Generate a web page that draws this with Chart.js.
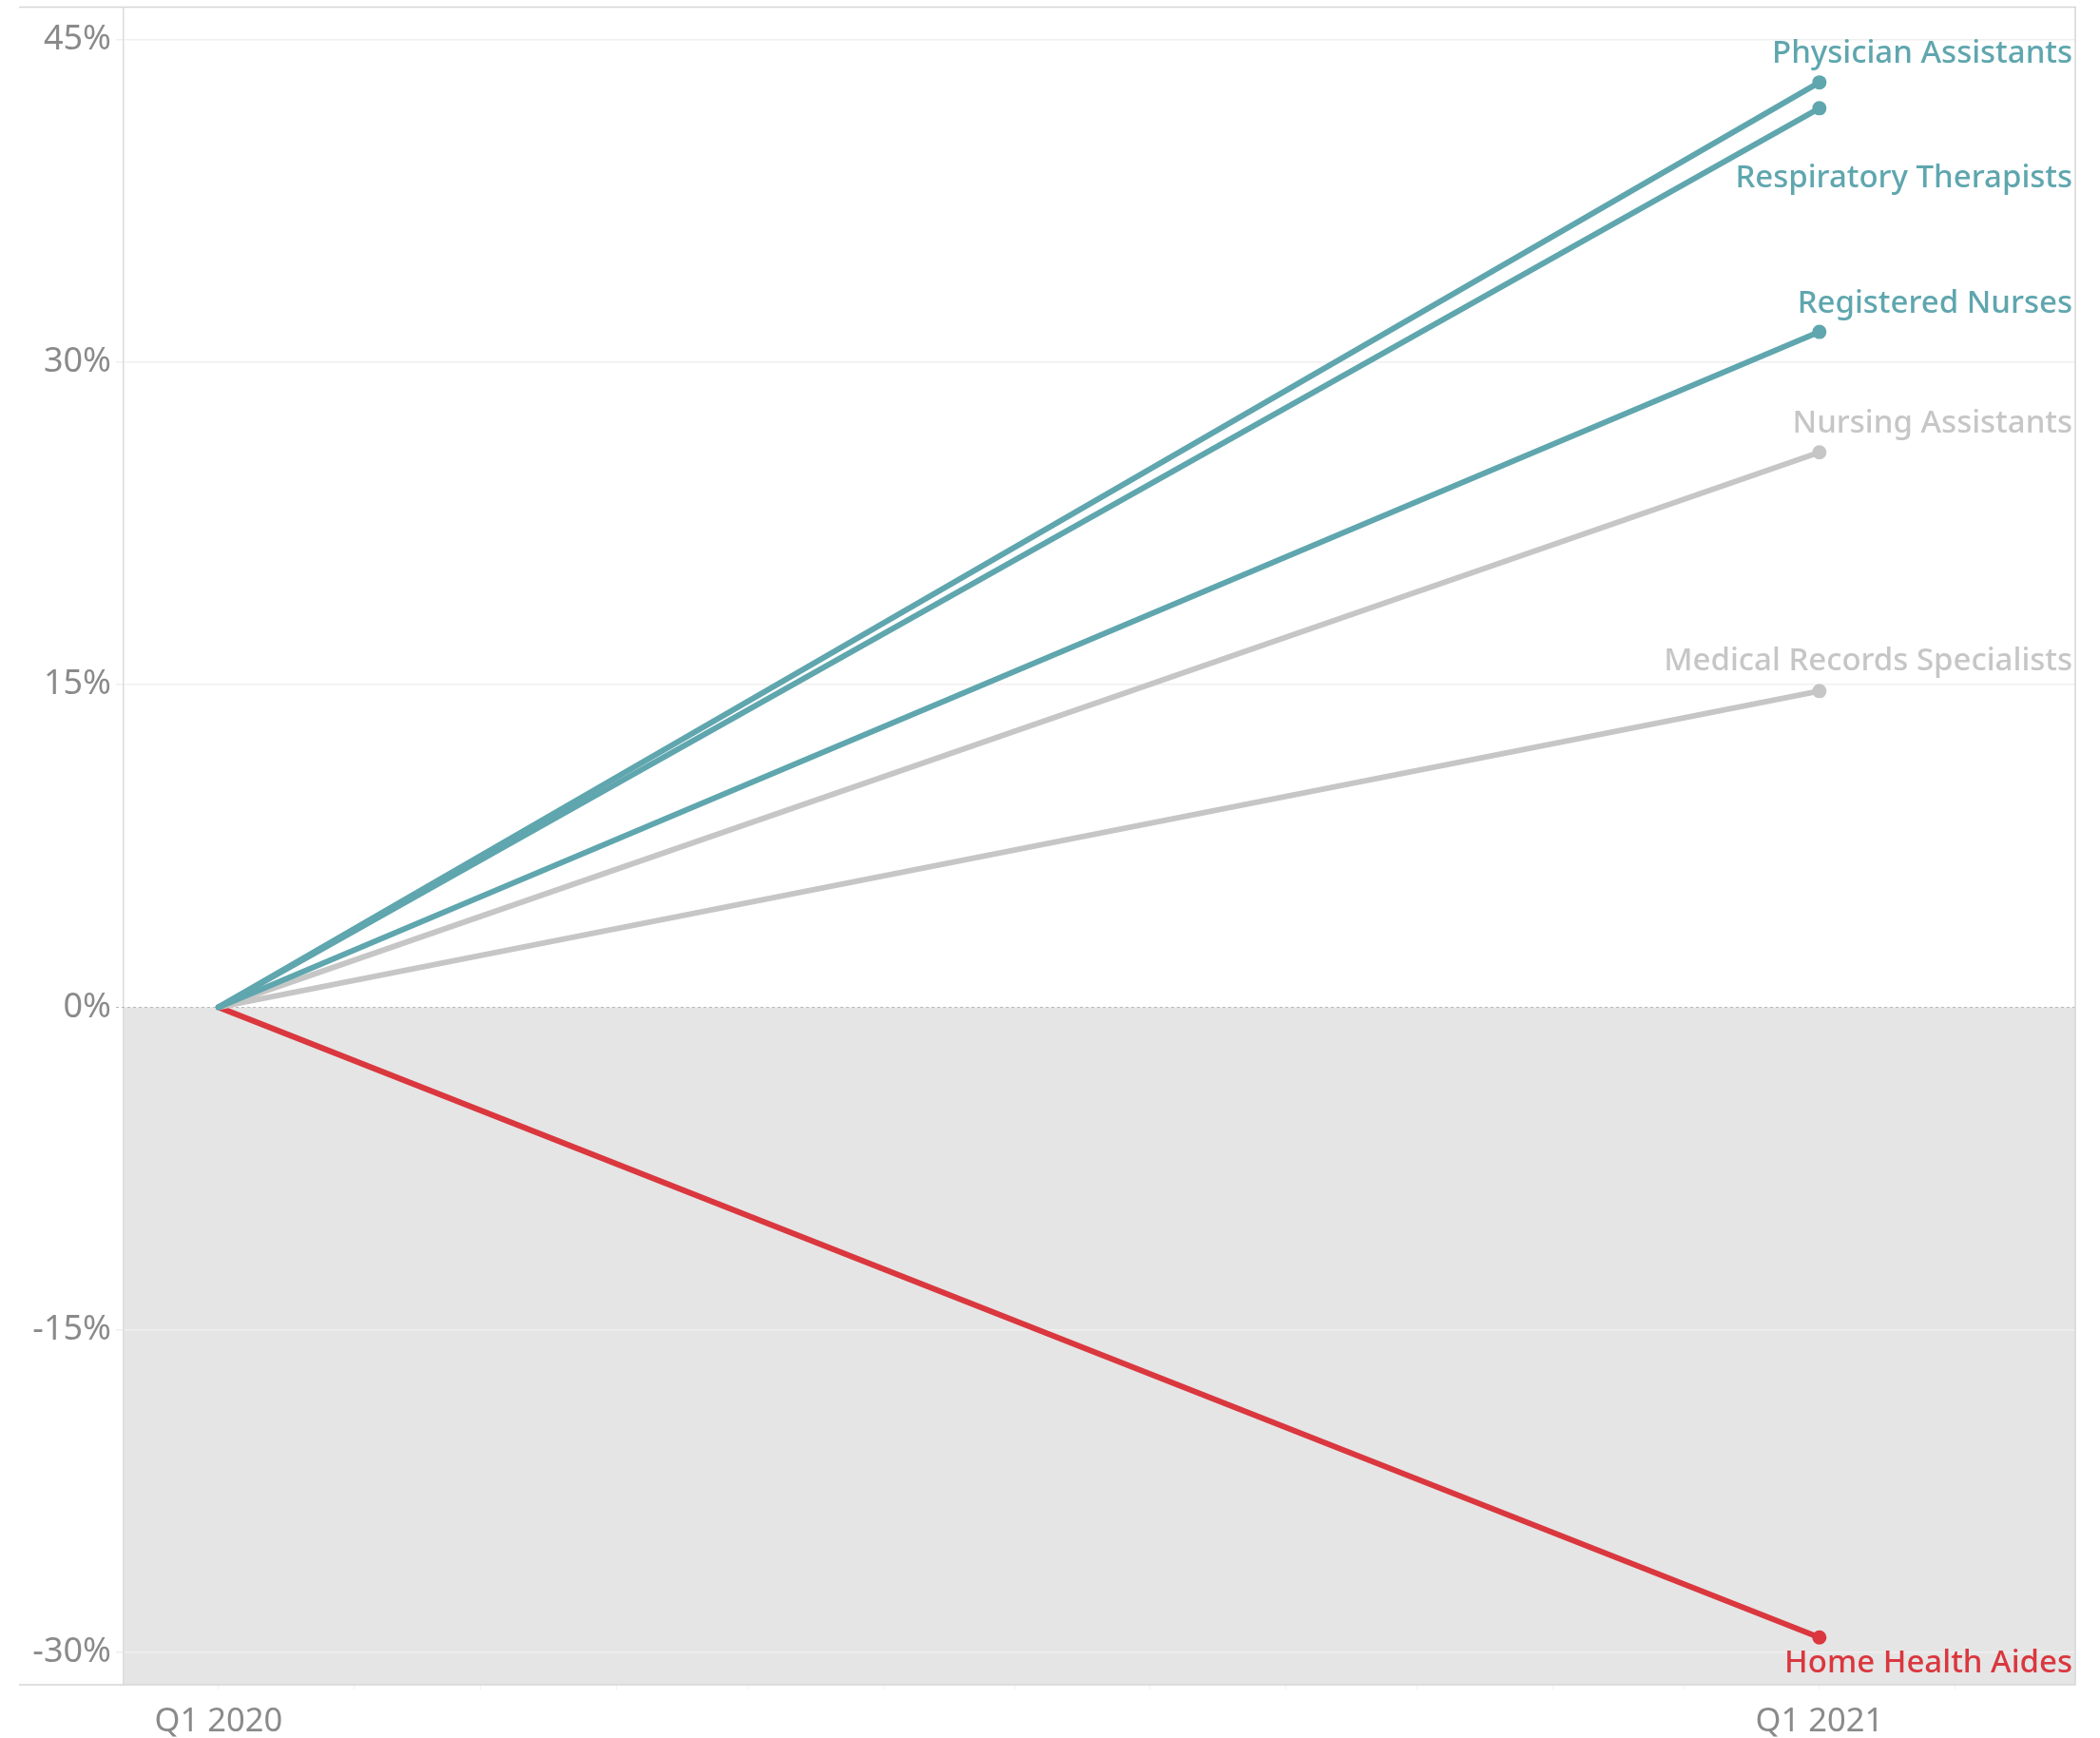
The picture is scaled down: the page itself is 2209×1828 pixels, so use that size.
<!DOCTYPE html>
<html>
<head>
<meta charset="utf-8">
<script src="https://cdn.jsdelivr.net/npm/chart.js@4.4.0/dist/chart.umd.min.js"></script>
<style>
  html, body { margin: 0; padding: 0; background: #fff; }
  #wrap { width: 2209px; height: 1828px; position: relative; }
</style>
</head>
<body>
<div id="wrap"><canvas id="growth"></canvas></div>
<script>
// occupations and their change in employment from Q1 2020 to Q1 2021 (%)
const occupations = [
  'Physician Assistants',
  'Respiratory Therapists',
  'Registered Nurses',
  'Nursing Assistants',
  'Medical Records Specialists',
  'Home Health Aides'
];
const changeQ1_2021 = [43.0, 41.8, 31.4, 25.8, 14.7, -29.3];
const periods = ['Q1 2020', 'Q1 2021'];
const periodDays = [0, 366];           // days since 1 Jan 2020
const monthStartDays = [0, 31, 60, 91, 121, 152, 182, 213, 244, 274, 305, 335, 366, 397];
const yTicks = [-30, -15, 0, 15, 30, 45];

// styling per series
const seriesColors = ['#5fa6ae', '#5fa6ae', '#5fa6ae', '#c6c6c6', '#c6c6c6', '#da373e'];
const labelDy = [-21, 83, -20, -21, -22, 37];   // baseline offset from end point

const FONT = '"Noto Sans", "DejaVu Sans", sans-serif';

const datasets = occupations.map((name, i) => ({
  label: name,
  data: [
    { x: periodDays[0], y: 0 },
    { x: periodDays[1], y: changeQ1_2021[i] }
  ],
  borderColor: seriesColors[i],
  backgroundColor: seriesColors[i],
  borderWidth: 6,
  borderCapStyle: 'round',
  pointRadius: [0, 7.5],
  pointHoverRadius: [0, 7.5],
  pointBorderWidth: 0,
  fill: false,
  tension: 0
}));

// gray band below zero, drawn before the grid so grid lines sit on top
const negativeBand = {
  id: 'negativeBand',
  beforeDraw(chart) {
    const { ctx, chartArea: a, scales: { y } } = chart;
    const y0 = y.getPixelForValue(0);
    ctx.save();
    ctx.fillStyle = '#e5e5e5';
    ctx.fillRect(a.left, y0, a.right - a.left, a.bottom - y0);
    ctx.restore();
  }
};

// frame lines, dashed zero line and end-of-line labels
const decorations = {
  id: 'decorations',
  beforeDatasetsDraw(chart) {
    const { ctx, chartArea: a, scales: { y } } = chart;
    const y0 = Math.round(y.getPixelForValue(0)) + 0.5;
    ctx.save();
    ctx.strokeStyle = '#b9b9b9';
    ctx.lineWidth = 1;
    ctx.setLineDash([3, 3]);
    ctx.beginPath();
    ctx.moveTo(a.left - 8, y0);
    ctx.lineTo(a.right, y0);
    ctx.stroke();
    ctx.setLineDash([]);
    ctx.strokeStyle = '#d6d6d6';
    ctx.lineWidth = 1.5;
    ctx.beginPath();
    ctx.moveTo(20, a.top);
    ctx.lineTo(a.right, a.top);
    ctx.lineTo(a.right, a.bottom);
    ctx.lineTo(20, a.bottom);
    ctx.stroke();
    ctx.restore();
  },
  afterDatasetsDraw(chart) {
    const { ctx, chartArea: a } = chart;
    ctx.save();
    ctx.textAlign = 'right';
    ctx.textBaseline = 'alphabetic';
    ctx.font = '500 33px ' + FONT;
    chart.data.datasets.forEach((ds, i) => {
      const pt = chart.getDatasetMeta(i).data[1];
      ctx.fillStyle = seriesColors[i];
      ctx.fillText(ds.label, a.right - 3, pt.y + labelDy[i]);
    });
    ctx.restore();
  }
};

// keep the plot edges where they are instead of padding for edge labels
function noEdgePadding(scale) {
  scale.paddingTop = 0;
  scale.paddingBottom = 0;
  scale.paddingLeft = 0;
  scale.paddingRight = 0;
}

new Chart(document.getElementById('growth'), {
  type: 'line',
  data: { datasets },
  options: {
    responsive: true,
    maintainAspectRatio: false,
    animation: false,
    events: [],
    layout: { padding: { top: 7, right: 26, bottom: 0, left: 0 } },
    plugins: { legend: { display: false }, tooltip: { enabled: false } },
    scales: {
      x: {
        type: 'linear',
        min: -21.7,
        max: 424.5,
        afterBuildTicks(scale) {
          scale.ticks = monthStartDays.map(v => ({ value: v }));
        },
        afterFit(scale) { scale.height = 56; noEdgePadding(scale); },
        grid: {
          drawOnChartArea: false,
          drawTicks: true,
          tickLength: 5,
          tickColor: '#f3f3f3'
        },
        border: { display: false },
        ticks: {
          autoSkip: false,
          maxRotation: 0,
          padding: 13,
          color: '#8a8a8a',
          font: { family: FONT, size: 34.5 },
          callback(v) {
            const k = periodDays.indexOf(v);
            return k >= 0 ? periods[k] : '';
          }
        }
      },
      y: {
        min: -31.5,
        max: 46.5,
        afterBuildTicks(scale) {
          scale.ticks = yTicks.map(v => ({ value: v }));
        },
        afterFit(scale) { scale.width = 130; noEdgePadding(scale); },
        grid: {
          color: ctx => ctx.tick && ctx.tick.value === 0 ? 'rgba(0,0,0,0)' : '#efefef',
          lineWidth: 1.5,
          drawTicks: true,
          tickLength: 8
        },
        border: { display: true, color: '#dcdcdc', width: 1.5 },
        ticks: {
          padding: 5,
          color: '#8a8a8a',
          font: { family: FONT, size: 36 },
          callback: v => v + '%'
        }
      }
    }
  },
  plugins: [negativeBand, decorations]
});
</script>
</body>
</html>
